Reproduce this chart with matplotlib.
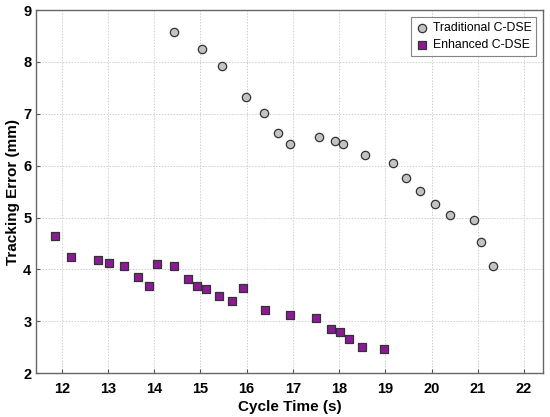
import matplotlib
matplotlib.use("Agg")
import matplotlib.pyplot as plt

plt.rcParams["font.family"] = ["Liberation Sans", "DejaVu Sans"]

# Traditional C-DSE (cycle time s, tracking error mm)
trad_x = [14.43, 15.03, 15.46, 15.98, 16.38, 16.67, 16.94, 17.56, 17.92, 18.08,
          18.57, 19.16, 19.44, 19.75, 20.07, 20.40, 20.92, 21.08, 21.32]
trad_y = [8.58, 8.25, 7.93, 7.32, 7.02, 6.63, 6.42, 6.55, 6.48, 6.42,
          6.21, 6.06, 5.76, 5.52, 5.26, 5.04, 4.96, 4.53, 4.07]

# Enhanced C-DSE
enh_x = [11.85, 12.21, 12.79, 13.02, 13.35, 13.65, 13.88, 14.07, 14.43, 14.73,
         14.92, 15.12, 15.40, 15.69, 15.92, 16.40, 16.93, 17.49, 17.82, 18.01,
         18.21, 18.49, 18.98]
enh_y = [4.64, 4.24, 4.19, 4.12, 4.07, 3.86, 3.68, 4.11, 4.06, 3.82,
         3.69, 3.63, 3.48, 3.39, 3.65, 3.22, 3.12, 3.06, 2.86, 2.80,
         2.66, 2.51, 2.46]

x_ticks = list(range(12, 23))
y_ticks = list(range(2, 10))

fig, ax = plt.subplots(figsize=(5.5, 4.17), dpi=100)
fig.subplots_adjust(left=0.066, right=0.988, top=0.976, bottom=0.105)

ax.scatter(trad_x, trad_y, s=36, marker="o", facecolor="#c2c2c2",
           edgecolor="#333333", linewidth=0.9, label="Traditional C-DSE", zorder=3)
ax.scatter(enh_x, enh_y, s=38, marker="s", facecolor="#8c1a96",
           edgecolor="#333333", linewidth=0.9, label="Enhanced C-DSE", zorder=3)

ax.set_xlim(11.45, 22.42)
ax.set_ylim(2, 9)
ax.set_xticks(x_ticks)
ax.set_yticks(y_ticks)
ax.tick_params(direction="in", length=3, color="#555555", labelsize=10.5)
ax.tick_params(axis="x", pad=6)
for lab in ax.get_xticklabels() + ax.get_yticklabels():
    lab.set_fontweight("bold")

ax.grid(True, linestyle=(0, (1.5, 1.5)), color="#d0d0d0", linewidth=0.7)
ax.set_axisbelow(True)
for sp in ax.spines.values():
    sp.set_color("#666666")
    sp.set_linewidth(1.0)

ax.set_xlabel("Cycle Time (s)", fontsize=11, fontweight="bold", labelpad=3)
ax.set_ylabel("Tracking Error (mm)", fontsize=11, fontweight="bold", labelpad=2)

leg = ax.legend(loc="upper right", fontsize=8.8, frameon=True, fancybox=False,
                edgecolor="#666666", handletextpad=0.4, borderpad=0.4,
                labelspacing=0.45, handlelength=1.0, borderaxespad=0,
                bbox_to_anchor=(0.986, 0.981))
leg.get_frame().set_linewidth(0.8)

plt.savefig("out.png", dpi=100, facecolor="white")
plt.close()
